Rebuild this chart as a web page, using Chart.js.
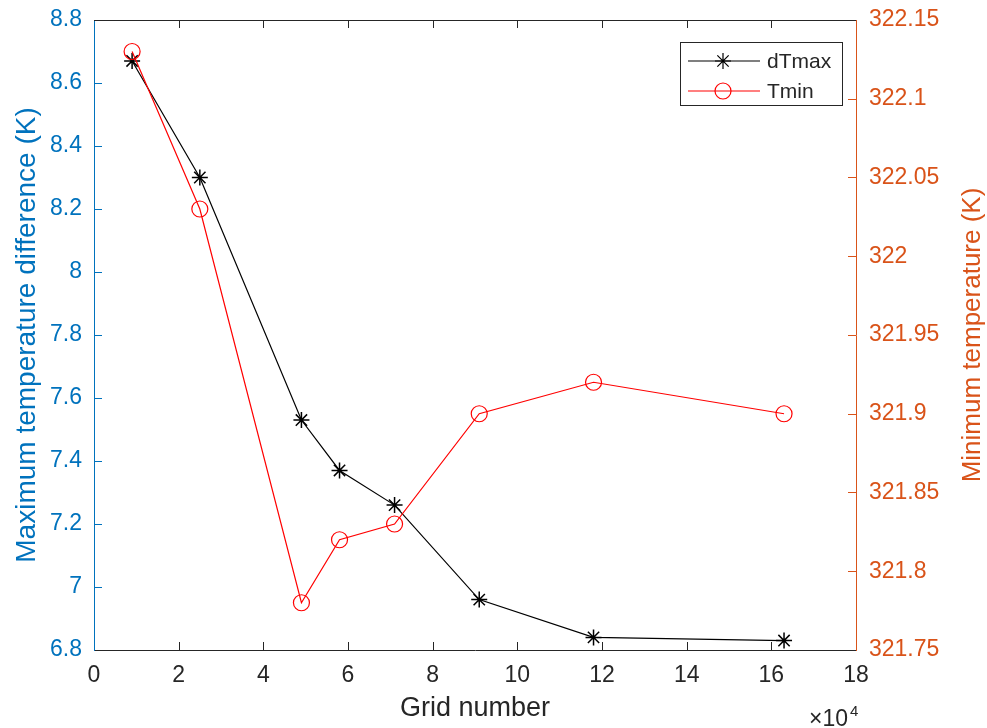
<!DOCTYPE html>
<html lang="en">
<head>
  <meta charset="UTF-8" />
  <title>Grid independence</title>
  <script src="https://cdn.jsdelivr.net/npm/chart.js"></script>
  <style>
    body {
      margin: 0;
      background: #fff;
    }
    #chart {
      display: block;
    }
  </style>
</head>
<body>
  <canvas id="chart" width="987" height="728"></canvas>

  <script>
    // grid number (x 10^4)
    const gridNumber = [0.9, 2.5, 4.9, 5.8, 7.1, 9.1, 11.8, 16.3];
    const dTmax = [8.67, 8.30, 7.53, 7.37, 7.26, 6.96, 6.84, 6.83];
    const Tmin = [322.13, 322.03, 321.78, 321.82, 321.83, 321.90, 321.92, 321.90];

    const xTicks = [0, 2, 4, 6, 8, 10, 12, 14, 16, 18];
    const leftTicks = [6.8, 7, 7.2, 7.4, 7.6, 7.8, 8, 8.2, 8.4, 8.6, 8.8];
    const rightTicks = [321.75, 321.8, 321.85, 321.9, 321.95, 322, 322.05, 322.1, 322.15];

    const rightTitle = 'Minimum temperature (K)';

    const FONT = "'Liberation Sans', Arial, Helvetica, sans-serif";
    const BLUE = '#0072BD';
    const ORANGE = '#D95319';
    const AXIS = '#262626';

    const toPoints = (xs, ys) => xs.map((x, i) => ({ x: x, y: ys[i] }));

    // inward ticks, top edge, right title, legend box and the x10^4 exponent
    const matlabFrame = {
      id: 'matlabFrame',
      afterDraw(chart) {
        const ctx = chart.ctx;
        const a = chart.chartArea;
        const sx = chart.scales.x, sl = chart.scales.y, sr = chart.scales.y1;
        const len = 8;
        ctx.save();
        ctx.lineWidth = 1;

        // top edge
        ctx.strokeStyle = AXIS;
        ctx.beginPath();
        ctx.moveTo(a.left, a.top + 0.5);
        ctx.lineTo(a.right, a.top + 0.5);
        ctx.stroke();

        // x ticks, bottom and top
        sx.ticks.forEach((t, i) => {
          if (i === 0 || i === sx.ticks.length - 1) return;
          const px = Math.round(sx.getPixelForTick(i)) + 0.5;
          ctx.beginPath();
          ctx.moveTo(px, a.bottom);
          ctx.lineTo(px, a.bottom - len);
          ctx.moveTo(px, a.top);
          ctx.lineTo(px, a.top + len);
          ctx.stroke();
        });

        // left ticks
        ctx.strokeStyle = BLUE;
        sl.ticks.forEach((t, i) => {
          if (i === 0 || i === sl.ticks.length - 1) return;
          const py = Math.round(sl.getPixelForTick(i)) + 0.5;
          ctx.beginPath();
          ctx.moveTo(a.left, py);
          ctx.lineTo(a.left + len, py);
          ctx.stroke();
        });

        // right ticks
        ctx.strokeStyle = ORANGE;
        sr.ticks.forEach((t, i) => {
          if (i === 0 || i === sr.ticks.length - 1) return;
          const py = Math.round(sr.getPixelForTick(i)) + 0.5;
          ctx.beginPath();
          ctx.moveTo(a.right, py);
          ctx.lineTo(a.right - len, py);
          ctx.stroke();
        });

        // right axis title, reading bottom to top
        ctx.save();
        ctx.translate(980, (a.top + a.bottom) / 2);
        ctx.rotate(-Math.PI / 2);
        ctx.fillStyle = ORANGE;
        ctx.font = '26px ' + FONT;
        ctx.textAlign = 'center';
        ctx.textBaseline = 'alphabetic';
        ctx.fillText(rightTitle, 0, 0);
        ctx.restore();

        // exponent label
        ctx.fillStyle = AXIS;
        ctx.textBaseline = 'alphabetic';
        ctx.textAlign = 'right';
        ctx.font = '23px ' + FONT;
        ctx.fillText('\u00d710', a.right - 8, 726);
        ctx.textAlign = 'left';
        ctx.font = '15px ' + FONT;
        ctx.fillText('4', a.right - 6, 716);

        // legend
        const lx = a.right - 176, ly = a.top + 22, lw = 162, lh = 63;
        ctx.fillStyle = '#fff';
        ctx.fillRect(lx, ly, lw, lh);
        ctx.strokeStyle = AXIS;
        ctx.strokeRect(lx + 0.5, ly + 0.5, lw, lh);
        ctx.font = '21px ' + FONT;
        ctx.textBaseline = 'middle';
        chart.data.datasets.forEach((ds, i) => {
          const ry = ly + 19 + i * 30;
          ctx.strokeStyle = ds.borderColor;
          ctx.lineWidth = ds.borderWidth;
          ctx.beginPath();
          ctx.moveTo(lx + 8, ry);
          ctx.lineTo(lx + 80, ry);
          ctx.stroke();
          ctx.fillStyle = 'rgba(0,0,0,0)';
          Chart.helpers.drawPoint(ctx, {
            pointStyle: ds.pointStyle,
            radius: ds.pointRadius,
            borderWidth: ds.pointBorderWidth
          }, lx + 43, ry);
          ctx.fillStyle = AXIS;
          ctx.fillText(ds.label, lx + 87, ry + 1);
        });
        ctx.restore();
      }
    };

    const fitY = w => s => {
      s.width = w;
      s.paddingTop = 0;
      s.paddingBottom = 0;
    };

    new Chart(document.getElementById('chart'), {
      type: 'line',
      data: {
        datasets: [
          {
            label: 'dTmax',
            data: toPoints(gridNumber, dTmax),
            yAxisID: 'y',
            borderColor: '#000',
            backgroundColor: '#000',
            borderWidth: 1.2,
            pointStyle: 'star',
            pointRadius: 8,
            pointBorderWidth: 1.5,
            pointBorderColor: '#000',
            tension: 0,
            order: 1
          },
          {
            label: 'Tmin',
            data: toPoints(gridNumber, Tmin),
            yAxisID: 'y1',
            borderColor: '#FF0000',
            backgroundColor: 'rgba(0,0,0,0)',
            borderWidth: 1.2,
            pointStyle: 'circle',
            pointRadius: 8,
            pointBorderWidth: 1.2,
            pointBorderColor: '#FF0000',
            pointBackgroundColor: 'rgba(0,0,0,0)',
            tension: 0,
            order: 0
          }
        ]
      },
      options: {
        responsive: false,
        animation: false,
        layout: { padding: { top: 20, left: 0, right: 0, bottom: 0 } },
        plugins: {
          legend: { display: false },
          tooltip: { enabled: false }
        },
        scales: {
          x: {
            type: 'linear',
            min: 0,
            max: 18,
            afterBuildTicks: s => { s.ticks = xTicks.map(v => ({ value: v })); },
            afterFit: s => { s.height = 78; s.paddingLeft = 0; s.paddingRight = 0; },
            grid: { display: false, drawTicks: false },
            border: { display: true, color: AXIS, width: 1 },
            ticks: {
              color: AXIS,
              padding: 12,
              font: { family: FONT, size: 23 },
              maxRotation: 0
            },
            title: {
              display: true,
              text: 'Grid number',
              color: AXIS,
              padding: { top: 0, bottom: 3 },
              font: { family: FONT, size: 27 }
            }
          },
          y: {
            position: 'left',
            min: 6.8,
            max: 8.8,
            afterBuildTicks: s => { s.ticks = leftTicks.map(v => ({ value: v })); },
            afterFit: fitY(94),
            grid: { display: false, drawTicks: false },
            border: { display: true, color: BLUE, width: 1 },
            ticks: {
              color: BLUE,
              padding: 12,
              font: { family: FONT, size: 23 },
              callback: v => String(Number(v.toFixed(2)))
            },
            title: {
              display: true,
              text: 'Maximum temperature difference (K)',
              color: BLUE,
              padding: { top: 10, bottom: 0 },
              font: { family: FONT, size: 28 }
            }
          },
          y1: {
            position: 'right',
            min: 321.75,
            max: 322.15,
            afterBuildTicks: s => { s.ticks = rightTicks.map(v => ({ value: v })); },
            afterFit: fitY(131),
            grid: { display: false, drawTicks: false },
            border: { display: true, color: ORANGE, width: 1 },
            ticks: {
              color: ORANGE,
              padding: 13,
              font: { family: FONT, size: 23 },
              callback: v => String(Number(v.toFixed(2)))
            },
            title: { display: false }
          }
        }
      },
      plugins: [matlabFrame]
    });
  </script>
</body>
</html>
